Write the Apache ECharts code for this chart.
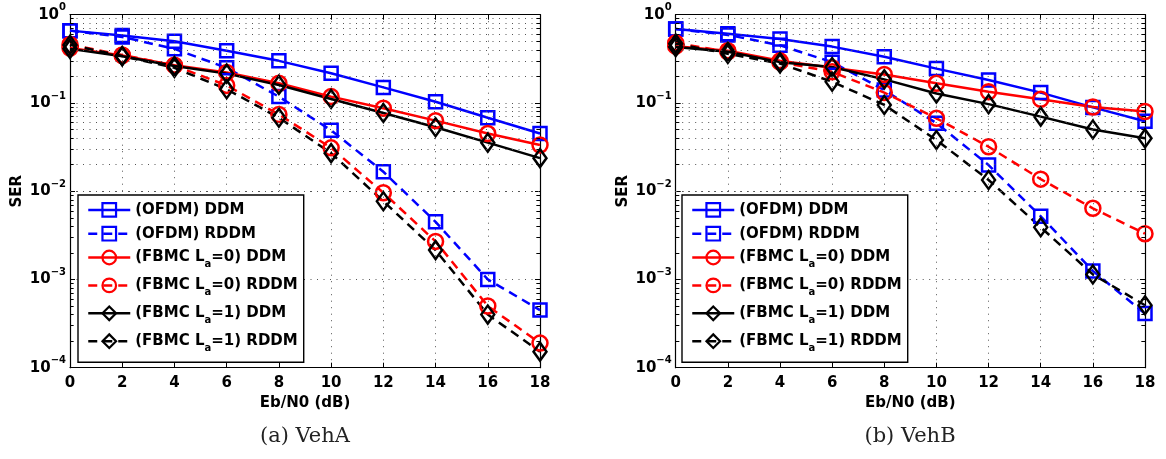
<!DOCTYPE html>
<html>
<head>
<meta charset="utf-8">
<script src="https://cdn.jsdelivr.net/npm/echarts@6/dist/echarts.min.js"></script>
<style>
html, body { margin: 0; background: #fff; }
#chart { width: 1166px; height: 459px; }
</style>
</head>
<body>
<div id="chart"></div>
<script>
// Eb/N0 (dB)
const ebn0 = [0, 2, 4, 6, 8, 10, 12, 14, 16, 18];
const names = ['(OFDM) DDM', '(OFDM) RDDM', '(FBMC La=0) DDM', '(FBMC La=0) RDDM', '(FBMC La=1) DDM', '(FBMC La=1) RDDM'];

// (a) VehA
const ofdmDdmA   = [0.66, 0.58, 0.50, 0.39, 0.30, 0.217, 0.150, 0.103, 0.068, 0.045];
const ofdmRddmA  = [0.66, 0.56, 0.41, 0.25, 0.118, 0.049, 0.0166, 0.0045, 0.0010, 0.00045];
const fbmc0DdmA  = [0.42, 0.345, 0.268, 0.222, 0.167, 0.118, 0.087, 0.063, 0.045, 0.0334];
const fbmc0RddmA = [0.46, 0.35, 0.265, 0.158, 0.074, 0.031, 0.0096, 0.0027, 0.0005, 0.00019];
const fbmc1DdmA  = [0.41, 0.338, 0.262, 0.215, 0.160, 0.111, 0.077, 0.053, 0.0355, 0.0237];
const fbmc1RddmA = [0.455, 0.34, 0.25, 0.143, 0.068, 0.027, 0.0077, 0.00215, 0.0004, 0.000152];

// (b) VehB
const ofdmDdmB   = [0.69, 0.61, 0.53, 0.435, 0.334, 0.245, 0.182, 0.131, 0.089, 0.062];
const ofdmRddmB  = [0.69, 0.59, 0.45, 0.29, 0.14, 0.059, 0.0198, 0.0052, 0.00125, 0.00041];
const fbmc0DdmB  = [0.44, 0.39, 0.30, 0.25, 0.21, 0.167, 0.134, 0.110, 0.090, 0.080];
const fbmc0RddmB = [0.48, 0.38, 0.29, 0.225, 0.131, 0.067, 0.0319, 0.0137, 0.0064, 0.0033];
const fbmc1DdmB  = [0.43, 0.38, 0.29, 0.255, 0.185, 0.128, 0.097, 0.070, 0.050, 0.0397];
const fbmc1RddmB = [0.47, 0.36, 0.28, 0.174, 0.095, 0.038, 0.0134, 0.0039, 0.00114, 0.00051];

// minor log ticks / grid lines (2..9 x 10^k)
const decades = [1e-4, 1e-3, 1e-2, 1e-1];
const mults = [2, 3, 4, 5, 6, 7, 8, 9];
const minorVals = [];
decades.forEach(d => mults.forEach(m => minorVals.push(+(m * d).toPrecision(3))));

const FONT = 'DejaVu Sans';
const BLUE = '#0000ff', RED = '#ff0000', BLACK = '#000000';
const X_MIN = 0, X_MAX = 18;
const TICK = 0.14; // minor tick length in x units

function mk(name, vals, color, dashed, symbol, size, idx) {
    return {
        name: name,
        type: 'line',
        xAxisIndex: idx,
        yAxisIndex: idx,
        data: ebn0.map((x, i) => [x, vals[i]]),
        symbol: symbol,
        symbolSize: size,
        lineStyle: { color: color, width: 2.5, type: dashed ? [9, 6] : 'solid' },
        itemStyle: { color: 'rgba(255,255,255,0)', borderColor: color, borderWidth: 2.5 },
        emphasis: { disabled: true },
        z: 3
    };
}

// dotted minor grid + inward minor ticks on left/right borders
function gridSeries(idx) {
    const gridLines = minorVals.map(v => ({ yAxis: v }));
    const ticks = [];
    minorVals.forEach(v => {
        ticks.push([{ coord: [X_MIN, v], lineStyle: { color: '#000', width: 1, type: 'solid' } }, { coord: [X_MIN + TICK, v] }]);
        ticks.push([{ coord: [X_MAX, v], lineStyle: { color: '#000', width: 1, type: 'solid' } }, { coord: [X_MAX - TICK, v] }]);
    });
    return {
        type: 'line',
        xAxisIndex: idx,
        yAxisIndex: idx,
        data: [],
        silent: true,
        z: 1,
        markLine: {
            silent: true,
            symbol: 'none',
            animation: false,
            label: { show: false },
            lineStyle: { color: '#555', width: 1, type: [1, 5.5] },
            data: gridLines.concat(ticks)
        }
    };
}

function chartSeries(prefix, d, idx) {
    return [
        gridSeries(idx),
        mk(prefix + names[0], d[0], BLUE, false, 'rect', 13, idx),
        mk(prefix + names[1], d[1], BLUE, true, 'rect', 13, idx),
        mk(prefix + names[2], d[2], RED, false, 'circle', 15, idx),
        mk(prefix + names[3], d[3], RED, true, 'circle', 15, idx),
        mk(prefix + names[4], d[4], BLACK, false, 'diamond', [13, 18], idx),
        mk(prefix + names[5], d[5], BLACK, true, 'diamond', [13, 18], idx)
    ];
}

const dotted = { show: true, lineStyle: { color: '#555', width: 1, type: [1, 5.5] } };

function xAxes(gi, top) {
    return {
        type: 'value', gridIndex: gi, min: X_MIN, max: X_MAX, interval: 2,
        position: top ? 'top' : 'bottom',
        axisLine: { show: true, onZero: false, lineStyle: { color: '#000', width: 1.2 } },
        axisTick: { show: true, inside: true, length: 5, lineStyle: { color: '#000' } },
        axisLabel: {
            show: !top, margin: 8, color: '#000', fontFamily: FONT, fontWeight: 'bold', fontSize: 15
        },
        splitLine: top ? { show: false } : dotted,
        name: top ? '' : 'Eb/N0 (dB)',
        nameLocation: 'middle',
        nameGap: 26,
        nameTextStyle: { color: '#000', fontFamily: FONT, fontWeight: 'bold', fontSize: 15 }
    };
}

function yAxes(gi, right) {
    return {
        type: 'log', logBase: 10, gridIndex: gi, min: 1e-4, max: 1,
        position: right ? 'right' : 'left',
        axisLine: { show: true, onZero: false, lineStyle: { color: '#000', width: 1.2 } },
        axisTick: { show: true, inside: true, length: 5, lineStyle: { color: '#000' } },
        axisLabel: {
            show: !right, margin: 4, color: '#000', showMinLabel: true, showMaxLabel: true,
            fontFamily: FONT, fontWeight: 'bold', fontSize: 15,
            formatter: function (v) {
                const e = Math.round(Math.log10(v));
                return '{b|10}{s|' + (e === 0 ? '0' : '\u2212' + (-e)) + '}';
            },
            rich: {
                b: { fontFamily: FONT, fontWeight: 'bold', fontSize: 15, lineHeight: 24, color: '#000' },
                s: { fontFamily: FONT, fontWeight: 'bold', fontSize: 10, lineHeight: 8, verticalAlign: 'top', color: '#000' }
            }
        },
        splitLine: right ? { show: false } : dotted,
        name: right ? '' : 'SER',
        nameLocation: 'middle',
        nameRotate: 90,
        nameGap: 45,
        nameTextStyle: { color: '#000', fontFamily: FONT, fontWeight: 'bold', fontSize: 15 }
    };
}

function legendOf(prefix, left) {
    return {
        orient: 'vertical',
        left: left,
        top: 195,
        data: names.map(n => prefix + n),
        selectedMode: false,
        itemWidth: 42,
        itemHeight: 17,
        itemGap: 8,
        padding: [7, 6, 9, 9],
        backgroundColor: '#fff',
        borderColor: '#000',
        borderWidth: 1.4,
        borderRadius: 0,
        itemStyle: { borderWidth: 2.2 },
        lineStyle: { width: 2.5 },
        z: 10,
        formatter: function (name) {
            const n = name.slice(prefix.length);
            if (n.indexOf('La') >= 0) {
                const parts = n.split('La');
                return '{t|' + parts[0] + 'L}{s|a}{t|' + parts[1] + '}';
            }
            return '{t|' + n + '}';
        },
        textStyle: {
            color: '#000', fontFamily: FONT, fontWeight: 'bold', fontSize: 15,
            rich: {
                t: { fontFamily: FONT, fontWeight: 'bold', fontSize: 15, lineHeight: 24, color: '#000' },
                s: { fontFamily: FONT, fontWeight: 'bold', fontSize: 10, lineHeight: 8, verticalAlign: 'bottom', color: '#000' }
            }
        }
    };
}

const chart = echarts.init(document.getElementById('chart'));
chart.setOption({
    animation: false,
    backgroundColor: '#fff',
    grid: [
        { left: 70, top: 14.7, width: 470, height: 353, show: false },
        { left: 675.7, top: 14.7, width: 469.3, height: 353, show: false }
    ],
    xAxis: [xAxes(0, false), xAxes(1, false), xAxes(0, true), xAxes(1, true)],
    yAxis: [yAxes(0, false), yAxes(1, false), yAxes(0, true), yAxes(1, true)],
    legend: [legendOf('', 78), legendOf('B ', 682)],
    series: [].concat(
        chartSeries('', [ofdmDdmA, ofdmRddmA, fbmc0DdmA, fbmc0RddmA, fbmc1DdmA, fbmc1RddmA], 0),
        chartSeries('B ', [ofdmDdmB, ofdmRddmB, fbmc0DdmB, fbmc0RddmB, fbmc1DdmB, fbmc1RddmB], 1)
    ),
    graphic: [
        { type: 'text', x: 305, y: 437, style: { text: '(a) VehA', font: '21px "DejaVu Serif"', fill: '#222', textAlign: 'center', textVerticalAlign: 'middle' } },
        { type: 'text', x: 910, y: 437, style: { text: '(b) VehB', font: '21px "DejaVu Serif"', fill: '#222', textAlign: 'center', textVerticalAlign: 'middle' } }
    ]
});
</script>
</body>
</html>
